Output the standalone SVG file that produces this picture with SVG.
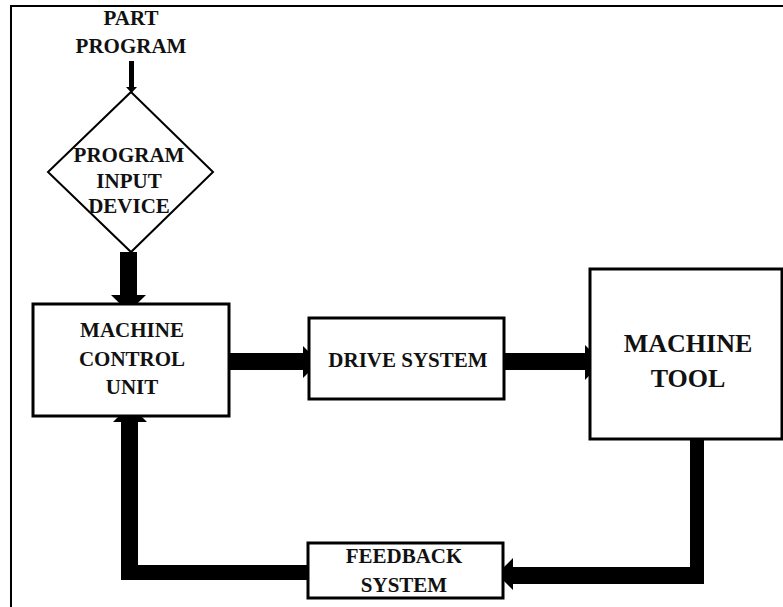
<svg xmlns="http://www.w3.org/2000/svg" width="783" height="607" viewBox="0 0 783 607">
<style>
.box{fill:#fff;stroke:#000;stroke-width:3}
.t{font-weight:bold;font-size:21px;fill:#111;text-anchor:middle}
.big{font-size:26px}
.arr{fill:#000}
</style>
<rect x="0" y="0" width="783" height="607" fill="#fff"/>
<polyline points="11,612 11,6 790,6" fill="none" stroke="#000" stroke-width="2"/>
<g font-family="'Liberation Serif', 'DejaVu Serif', serif">
<g id="part-program">
<text class="t" x="131" y="25">PART</text>
<text class="t" x="131" y="53">PROGRAM</text>
</g>
<g id="program-input-device">
<polygon points="131,92 213,172 131,252 48,172" fill="#fff" stroke="#000" stroke-width="2"/>
<text class="t" x="129" y="162">PROGRAM</text>
<text class="t" x="129" y="188">INPUT</text>
<text class="t" x="129" y="213">DEVICE</text>
</g>
<g id="connectors">
<polygon class="arr" points="129,61 134,61 134,87 137,87 131.5,93 126,87 129,87"/>
<polygon class="arr" points="120,252 137,252 137,295 146,295 128.5,312 111,295 120,295"/>
<polygon class="arr" points="229,353 303,353 303,346 319,362 303,378 303,370 229,370"/>
<polygon class="arr" points="504,353 585,353 585,345 602,362 585,380 585,370 504,370"/>
<polygon class="arr" points="704,439 704,584 513,584 513,590 497,574 513,558 513,567 690,567 690,439"/>
<polygon class="arr" points="307,565 307,580 121,580 121,422 113,422 130,405 147,422 138,422 138,565"/>
</g>
<g id="machine-control-unit">
<rect class="box" x="33" y="304" width="196" height="112"/>
<text class="t" x="132" y="337">MACHINE</text>
<text class="t" x="132" y="366">CONTROL</text>
<text class="t" x="132" y="394">UNIT</text>
</g>
<g id="drive-system">
<rect class="box" x="309" y="318" width="195" height="81"/>
<text class="t" x="408" y="367">DRIVE SYSTEM</text>
</g>
<g id="machine-tool">
<rect class="box" x="590" y="269" width="192" height="170"/>
<text class="t big" x="688" y="352">MACHINE</text>
<text class="t big" x="688" y="387">TOOL</text>
</g>
<g id="feedback-system">
<rect class="box" x="308" y="543" width="195" height="55"/>
<text class="t" x="404" y="563">FEEDBACK</text>
<text class="t" x="404" y="592">SYSTEM</text>
</g>
</g>
</svg>
